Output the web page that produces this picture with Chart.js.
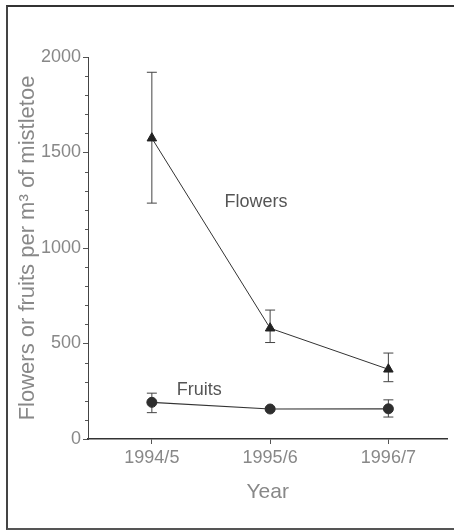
<!DOCTYPE html>
<html>
<head>
<meta charset="utf-8">
<script src="https://cdn.jsdelivr.net/npm/chart.js@4"></script>
<style>
  body { margin: 0; background: #fff; }
  #wrap { position: relative; width: 454px; height: 530px; }
  #frame {
    position: absolute; left: 6px; top: 5px; width: 446px; height: 521px;
    border-top: 2px solid #333; border-left: 2px solid #444;
    border-bottom: 2px solid #555; border-right: 1px solid #bbb;
    pointer-events: none;
  }
</style>
</head>
<body>
<div id="wrap">
  <canvas id="myChart" width="454" height="530"></canvas>
  <div id="frame"></div>
</div>
<script>
/*------------------------------ data ------------------------------*/
const years = ['1994/5', '1995/6', '1996/7'];
const flowers = [1575, 580, 365];
const flowersHigh = [1920, 675, 450];
const flowersLow = [1235, 505, 300];
const fruits = [192, 157, 158];
const fruitsHigh = [240, 165, 205];
const fruitsLow = [138, 150, 115];
const yTicks = [0, 500, 1000, 1500, 2000];

// annotation text, placed in data units
const notes = [
    { text: 'Flowers', x: 1.88, y: 1240 },
    { text: 'Fruits', x: 1.40, y: 258 }
];

const toPoints = (arr) => arr.map((v, i) => ({ x: i + 1, y: v }));

/*---------------------------- plugins -----------------------------*/
// error bars with caps
const errorBars = {
    id: 'errorBars',
    beforeDatasetsDraw(chart) {
        const ctx = chart.ctx;
        const xs = chart.scales.x;
        const ys = chart.scales.y;
        chart.data.datasets.forEach((ds) => {
            ds.low.forEach((lo, i) => {
                const x = xs.getPixelForValue(i + 1);
                const y1 = ys.getPixelForValue(lo);
                const y2 = ys.getPixelForValue(ds.high[i]);
                ctx.save();
                ctx.strokeStyle = '#444';
                ctx.lineWidth = 1;
                ctx.beginPath();
                ctx.moveTo(x, y1); ctx.lineTo(x, y2);
                ctx.moveTo(x - 5, y1); ctx.lineTo(x + 5, y1);
                ctx.moveTo(x - 5, y2); ctx.lineTo(x + 5, y2);
                ctx.stroke();
                ctx.restore();
            });
        });
    }
};

// minor ticks on y axis + text notes
const extras = {
    id: 'extras',
    afterDraw(chart) {
        const ctx = chart.ctx;
        const xs = chart.scales.x;
        const ys = chart.scales.y;
        ctx.save();
        ctx.strokeStyle = '#555';
        ctx.lineWidth = 1;
        ctx.beginPath();
        for (let v = 100; v < 2000; v += 100) {
            if (v % 500 == 0) continue;
            const y = Math.round(ys.getPixelForValue(v)) + 0.5;
            ctx.moveTo(xs.left - 3, y);
            ctx.lineTo(xs.left, y);
        }
        ctx.stroke();

        ctx.fillStyle = '#555';
        ctx.font = '18px "Liberation Sans", Arial, sans-serif';
        ctx.textAlign = 'center';
        ctx.textBaseline = 'middle';
        notes.forEach((n) => {
            ctx.fillText(n.text, xs.getPixelForValue(n.x), ys.getPixelForValue(n.y));
        });
        ctx.restore();
    }
};

/*----------------------------- chart ------------------------------*/
const fontFamily = '"Liberation Sans", Arial, sans-serif';

const config = {
    type: 'line',
    data: {
        datasets: [{
            label: 'Flowers',
            data: toPoints(flowers),
            low: flowersLow,
            high: flowersHigh,
            borderColor: '#333',
            borderWidth: 1,
            pointStyle: 'triangle',
            pointRadius: 5.5,
            pointBackgroundColor: '#222',
            pointBorderColor: '#222',
            pointBorderWidth: 1
        }, {
            label: 'Fruits',
            data: toPoints(fruits),
            low: fruitsLow,
            high: fruitsHigh,
            borderColor: '#333',
            borderWidth: 1.2,
            pointStyle: 'circle',
            pointRadius: 5,
            pointBackgroundColor: '#2e2e2e',
            pointBorderColor: '#2e2e2e',
            pointBorderWidth: 1
        }]
    },
    options: {
        responsive: false,
        animation: false,
        layout: { padding: { left: 0, top: 57, right: 5, bottom: 0 } },
        plugins: {
            legend: { display: false },
            tooltip: { enabled: false }
        },
        scales: {
            x: {
                type: 'linear',
                min: 0.46,
                max: 3.5,
                afterBuildTicks: (axis) => {
                    axis.ticks = years.map((y, i) => ({ value: i + 1 }));
                },
                afterFit: (axis) => { axis.height = 91; },
                border: { color: '#333', width: 1.5 },
                grid: {
                    drawOnChartArea: false,
                    tickLength: 5,
                    tickColor: '#555'
                },
                ticks: {
                    padding: 3,
                    color: '#888',
                    font: { family: fontFamily, size: 18 },
                    callback: (v) => years[v - 1] || ''
                },
                title: {
                    display: true,
                    text: 'Year',
                    color: '#888',
                    font: { family: fontFamily, size: 21 },
                    padding: { top: 0, bottom: 25 }
                }
            },
            y: {
                min: 0,
                max: 2000,
                afterBuildTicks: (axis) => {
                    axis.ticks = yTicks.map((v) => ({ value: v }));
                },
                afterFit: (axis) => { axis.width = 88; },
                border: { color: '#444', width: 1 },
                grid: {
                    drawOnChartArea: false,
                    tickLength: 5,
                    tickColor: '#555'
                },
                ticks: {
                    padding: 2,
                    color: '#888',
                    font: { family: fontFamily, size: 18 },
                    callback: (v) => String(v)
                },
                title: {
                    display: true,
                    text: 'Flowers or fruits per m³ of mistletoe',
                    color: '#888',
                    font: { family: fontFamily, size: 22 },
                    padding: { top: 15, bottom: 0 }
                }
            }
        }
    },
    plugins: [errorBars, extras]
};

const myChart = new Chart(document.getElementById('myChart'), config);
</script>
</body>
</html>
